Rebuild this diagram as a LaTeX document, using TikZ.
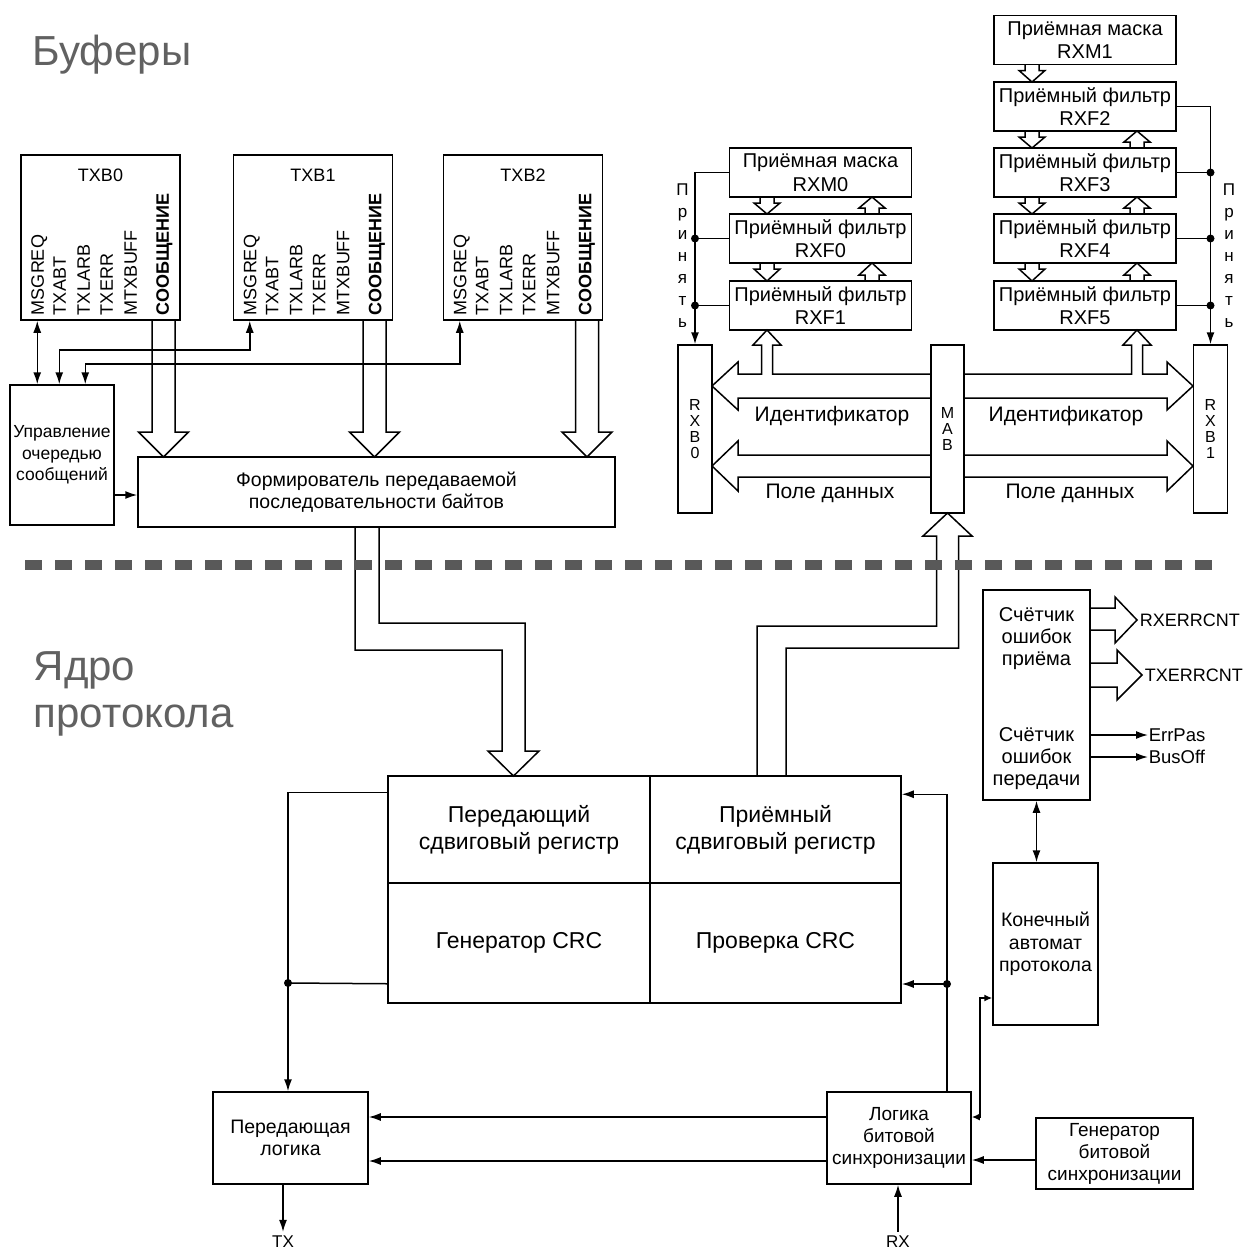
\documentclass[tikz,border=0pt]{standalone}
\usepackage{fontspec}
\setmainfont{Liberation Sans}
\usetikzlibrary{arrows.meta}

\begin{document}
\begin{tikzpicture}[x=1pt,y=-1pt,line width=1.5pt]
  \tikzstyle{block}=[draw,rectangle,inner sep=0pt,align=center,font=\fontsize{20}{23.5}\selectfont];
  \tikzstyle{txbuf}=[block,minimum width=159pt,minimum height=165pt];
  \tikzstyle{rxfilter}=[block,minimum width=182pt,minimum height=49pt];
  \tikzstyle{rxbuf}=[block,minimum width=34pt,minimum height=168pt,font=\fontsize{16}{16}\selectfont];
  \tikzstyle{regbox}=[block,font=\fontsize{23}{27}\selectfont];
  \tikzstyle{txt}=[inner sep=0pt,align=center,font=\fontsize{20}{22}\selectfont];
  \tikzstyle{vsig}=[inner sep=0pt,rotate=90,anchor=mid west,font=\fontsize{18}{18}\selectfont];
  \tikzstyle{heading}=[inner sep=0pt,anchor=base west,text=black!62,font=\fontsize{42}{47}\selectfont];
  \tikzstyle{sig}=[-{Latex[length=12pt,width=8pt]}];
  \tikzstyle{dbl}=[{Latex[length=12pt,width=8pt]}-{Latex[length=12pt,width=8pt]}];
  \tikzstyle{dbls}=[{Latex[length=8pt,width=7pt]}-{Latex[length=8pt,width=7pt]}];
  \tikzstyle{fat}=[line join=miter];
  \tikzstyle{divider}=[line width=10pt,black!65,dash pattern=on 17pt off 13pt];
  \tikzstyle{junction}=[fill,circle,inner sep=0pt,minimum size=8pt];

  \useasboundingbox (0,0) rectangle (1246,1250);

  % headings
  \node[heading] (hbuf) at (32,65) {Буферы};
  \node[heading] (hcore) at (33,680) {Ядро};
  \node[heading] (hcore2) at (33,727) {протокола};

  % transmit buffers
  \foreach \b/\x in {TXB0/100.5,TXB1/313,TXB2/523}{
    \node[txbuf] (\b) at (\x,237.5) {};
    \node[txt,font=\fontsize{18}{18}\selectfont] (\b-name) at (\x,175) {\b};
    \foreach \s/\dx in {MSGREQ/21,TXABT/43,TXLARB/67,TXERR/90,MTXBUFF/114}
      \node[vsig] (\b-\s) at ([xshift=\dx pt,yshift=5pt]\b.south west) {\s};
    \node[vsig,font=\fontsize{18}{18}\selectfont\bfseries] (\b-msg) at ([xshift=146pt,yshift=5pt]\b.south west) {СООБЩЕНИЕ};
  }
  \node[block,minimum width=104pt,minimum height=140pt,font=\fontsize{17.5}{21.5}\selectfont] (queue) at (62,455) {Управление\\очередью\\сообщений};
  \node[block,minimum width=477pt,minimum height=70pt,font=\fontsize{19.5}{21.5}\selectfont] (asm) at (376.5,492) {Формирователь передаваемой\\последовательности байтов};

  % masks and filters
  \node[rxfilter] (RXM1) at (1085,40) {Приёмная маска\\RXM1};
  \node[rxfilter] (RXF2) at (1085,106.5) {Приёмный фильтр\\RXF2};
  \node[rxfilter] (RXF3) at (1085,172.5) {Приёмный фильтр\\RXF3};
  \node[rxfilter] (RXF4) at (1085,238.5) {Приёмный фильтр\\RXF4};
  \node[rxfilter] (RXF5) at (1085,305.5) {Приёмный фильтр\\RXF5};
  \node[rxfilter] (RXM0) at (820.5,172.5) {Приёмная маска\\RXM0};
  \node[rxfilter] (RXF0) at (820.5,238.5) {Приёмный фильтр\\RXF0};
  \node[rxfilter] (RXF1) at (820.5,305.5) {Приёмный фильтр\\RXF1};

  % receive buffers
  \node[rxbuf] (RXB0) at (695,429) {R\\X\\B\\0};
  \node[rxbuf,minimum width=33pt] (MAB) at (947.5,429) {M\\A\\B};
  \node[rxbuf] (RXB1) at (1210.5,429) {R\\X\\B\\1};
  \node[txt,font=\fontsize{17}{22}\selectfont] (accL) at (682.5,256) {П\\р\\и\\н\\я\\т\\ь};
  \node[txt,font=\fontsize{17}{22}\selectfont] (accR) at (1229,256) {П\\р\\и\\н\\я\\т\\ь};
  \node[txt,font=\fontsize{21}{21}\selectfont] (idL) at (832,416) {Идентификатор};
  \node[txt,font=\fontsize{21}{21}\selectfont] (idR) at (1066,416) {Идентификатор};
  \node[txt,font=\fontsize{21}{21}\selectfont] (dataL) at (830,493) {Поле данных};
  \node[txt,font=\fontsize{21}{21}\selectfont] (dataR) at (1070,493) {Поле данных};

  % protocol engine
  \node[regbox,minimum width=262pt,minimum height=107pt] (TSR) at (519,829.5) {Передающий\\сдвиговый регистр};
  \node[regbox,minimum width=251pt,minimum height=107pt] (RSR) at (775.5,829.5) {Приёмный\\сдвиговый регистр};
  \node[regbox,minimum width=262pt,minimum height=120pt] (CRCG) at (519,943) {Генератор CRC};
  \node[regbox,minimum width=251pt,minimum height=120pt] (CRCC) at (775.5,943) {Проверка CRC};
  \node[block,minimum width=107pt,minimum height=210pt] (ERRC) at (1036.5,695) {};
  \node[txt] (rxcnt) at (1036.5,638.5) {Счётчик\\ошибок\\приёма};
  \node[txt] (txcnt) at (1036.5,758.5) {Счётчик\\ошибок\\передачи};
  \node[block,minimum width=105pt,minimum height=162pt,font=\fontsize{19.5}{22.5}\selectfont] (FSM) at (1045.5,944) {Конечный\\автомат\\протокола};
  \node[block,minimum width=155pt,minimum height=92pt,font=\fontsize{19.5}{22}\selectfont] (TXL) at (290.5,1138) {Передающая\\логика};
  \node[block,minimum width=144pt,minimum height=92pt,font=\fontsize{19}{22}\selectfont] (BSL) at (899,1138) {Логика\\битовой\\синхронизации};
  \node[block,minimum width=157pt,minimum height=71pt,font=\fontsize{19}{22}\selectfont] (BTG) at (1114.5,1153.5) {Генератор\\битовой\\синхронизации};
  \node[txt,font=\fontsize{17}{17}\selectfont,inner sep=3pt] (TX) at (283,1241.5) {TX};
  \node[txt,font=\fontsize{17}{17}\selectfont,inner sep=3pt] (RX) at (898,1241.5) {RX};
  \node[txt,anchor=west,font=\fontsize{18}{18}\selectfont] (rxerrcnt) at (1139,620) {RXERRCNT};
  \node[txt,anchor=west,font=\fontsize{18}{18}\selectfont] (txerrcnt) at (1144,675) {TXERRCNT};
  \node[txt,anchor=west,font=\fontsize{18.5}{18}\selectfont] (ErrPas) at (1148,735) {ErrPas};
  \node[txt,anchor=west,font=\fontsize{18.5}{18}\selectfont] (BusOff) at (1148,757) {BusOff};

  % TXBn : MSGREQ <=> queue
  \draw[dbl] ([xshift=17pt]TXB0.south west) -- ([xshift=28pt]queue.north west);
  \draw[dbl] ([xshift=17pt]TXB1.south west) -- ++(0,29) -| ([xshift=50pt]queue.north west);
  \draw[dbl] ([xshift=17pt]TXB2.south west) -- ++(0,43) -| ([xshift=76pt]queue.north west);

  % queue => asm
  \draw[sig] ([yshift=-40pt]queue.east) -- ([yshift=-40pt]queue.east -| asm.west);

  % TXBn : message => asm
  \foreach \x in {163.5,374.5,587}
    \draw[fat] (\x-11.5,320) -- (\x-11.5,432) -- (\x-25,432) -- (\x,457) -- (\x+25,432) -- (\x+11.5,432) -- (\x+11.5,320);

  % asm => TSR
  \draw[fat] (355,527) -- (355,650) -- (502,650) -- (502,751) -- (488,751) -- (513.5,776) -- (539,751) -- (525,751) -- (525,623) -- (379,623) -- (379,527);

  % RSR => MAB
  \draw[fat] (757,776) -- (757,626) -- (936.5,626) -- (936.5,536) -- (923,536) -- (947.5,513) -- (972,536) -- (958.5,536) -- (958.5,648) -- (786,648) -- (786,776);

  % mask => filter => filter
  \foreach \x/\ya/\yb in {767/197/214,767/263/281,1032/64.5/82,1032/131/148,1032/197/214,1032/263/281}
    \draw[fat] (\x-7,\ya) -- (\x-7,\ya+6) -- (\x-13,\ya+6) -- (\x,\yb) -- (\x+13,\ya+6) -- (\x+7,\ya+6) -- (\x+7,\ya);
  \foreach \x/\ya/\yb in {872/197/214,872/263/281,1137/131/148,1137/197/214,1137/263/281}
    \draw[fat] (\x-7,\yb) -- (\x-7,\yb-6) -- (\x-13,\yb-6) -- (\x,\ya) -- (\x+13,\yb-6) -- (\x+7,\yb-6) -- (\x+7,\yb);

  % MAB <=> RXB0, RXB1
  \draw[fat] (931,374) -- (772.5,374) -- (772.5,345) -- (781,345) -- (767,330) -- (753,345) -- (761.5,345) -- (761.5,374) -- (738,374) -- (738,362) -- (712,386) -- (738,410) -- (738,398) -- (931,398);
  \draw[fat] (964,374) -- (1131.5,374) -- (1131.5,345) -- (1123,345) -- (1137,330) -- (1151,345) -- (1142.5,345) -- (1142.5,374) -- (1167,374) -- (1167,362) -- (1193,386) -- (1167,410) -- (1167,398) -- (964,398);
  \draw[fat] (931,455) -- (738,455) -- (738,441) -- (712,466) -- (738,491) -- (738,477) -- (931,477);
  \draw[fat] (964,455) -- (1167,455) -- (1167,441) -- (1193,466) -- (1167,491) -- (1167,477) -- (964,477);

  % accept : filters => RXB0, RXB1
  \draw[sig] (RXM0.west) -| (RXB0.north);
  \foreach \f in {RXF0,RXF1}{
    \draw (\f.west) -- (\f.west -| RXB0.north);
    \node[junction] (\f-j) at (\f.west -| RXB0.north) {};
  }
  \draw[sig] (RXF2.east) -| (RXB1.north);
  \foreach \f in {RXF3,RXF4,RXF5}{
    \draw (\f.east) -- (\f.east -| RXB1.north);
    \node[junction] (\f-j) at (\f.east -| RXB1.north) {};
  }

  % error counters
  \draw[fat] (1090,608) -- (1115,608) -- (1115,597) -- (1137,620) -- (1115,643) -- (1115,630) -- (1090,630);
  \draw[fat] (1090,663) -- (1117,663) -- (1117,650) -- (1142,675) -- (1117,700) -- (1117,687) -- (1090,687);
  \draw[sig] ([yshift=-40pt]ERRC.east) -- (ErrPas.west);
  \draw[sig] ([yshift=-62pt]ERRC.east) -- (BusOff.west);
  \draw[dbl] (ERRC.south) -- (ERRC.south |- FSM.north);

  % shift registers => TXL
  \coordinate (txtap) at (288,983);
  \draw[sig] ([yshift=-17pt]TSR.north west) -| (txtap |- TXL.north);
  \draw ([yshift=20pt]CRCG.south west) -- (txtap);
  \node[junction] (txj) at (txtap) {};

  % BSL => shift registers
  \coordinate (rxtap) at (947,984);
  \draw[sig] (rxtap |- BSL.north) |- ([yshift=-19pt]RSR.north east);
  \draw[sig] (rxtap) -- (rxtap -| CRCC.east);
  \node[junction] (rxj) at (rxtap) {};

  % BSL <=> FSM
  \coordinate (smbend) at (980,998);
  \draw[dbls] (FSM.west |- smbend) -- (smbend) |- ([yshift=21pt]BSL.east);

  % bit logic
  \draw[sig] ([yshift=21pt]BSL.west) -- ([yshift=21pt]BSL.west -| TXL.east);
  \draw[sig] ([yshift=-23pt]BSL.west) -- ([yshift=-23pt]BSL.west -| TXL.east);
  \draw[sig] ([yshift=-6.5pt]BTG.west) -- ([yshift=-6.5pt]BTG.west -| BSL.east);
  \draw[sig] (TXL.south -| TX) -- (TX.north);
  \draw[sig] (RX.north) -- (RX.north |- BSL.south);

  % buffers / protocol engine
  \draw[divider] (25,565) -- (1222,565);
\end{tikzpicture}
\end{document}
